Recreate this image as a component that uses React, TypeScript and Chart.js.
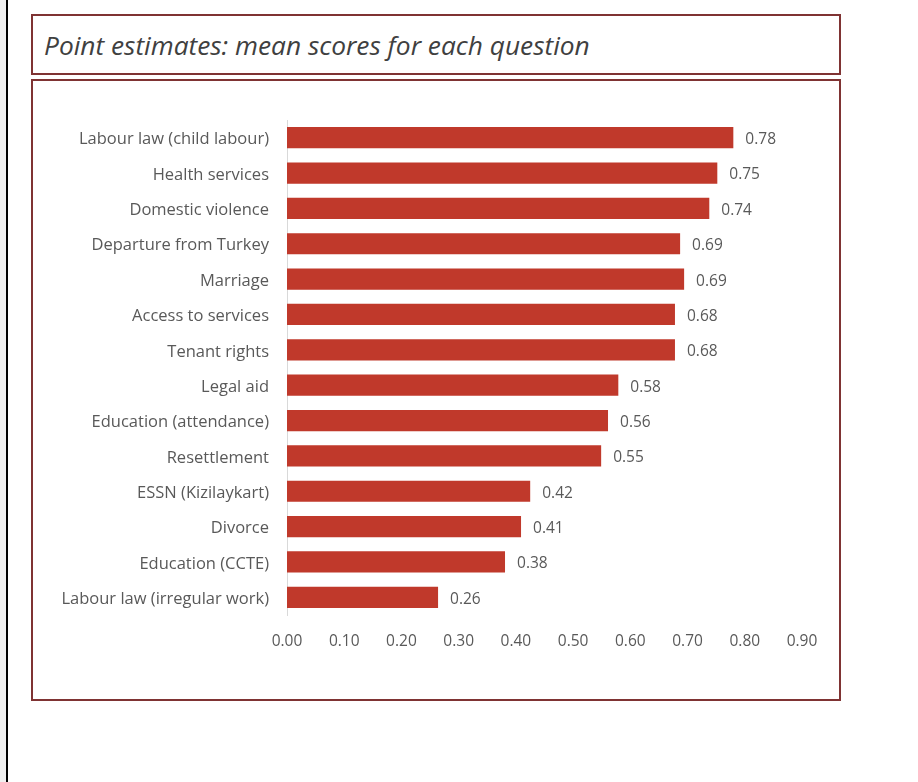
import React, { useEffect, useRef } from "react";
import { Chart, registerables } from "chart.js";

Chart.register(...registerables);

const TITLE = "Point estimates: mean scores for each question";
const categories = [
  "Labour law (child labour)",
  "Health services",
  "Domestic violence",
  "Departure from Turkey",
  "Marriage",
  "Access to services",
  "Tenant rights",
  "Legal aid",
  "Education (attendance)",
  "Resettlement",
  "ESSN (Kizilaykart)",
  "Divorce",
  "Education (CCTE)",
  "Labour law (irregular work)",
];
const meanScores = [0.78, 0.752, 0.738, 0.687, 0.694, 0.678, 0.678, 0.579, 0.561, 0.549, 0.425, 0.409, 0.381, 0.264];
const xTicks = [0, 0.1, 0.2, 0.3, 0.4, 0.5, 0.6, 0.7, 0.8, 0.9];

const FONT = "'Open Sans', 'Noto Sans', sans-serif";
const TEXT = "#595959";
const BAR = "#c0392b";
const FS = 15.5;

const valueLabels = {
  id: "valueLabels",
  afterDatasetsDraw(chart: any) {
    const ctx = chart.ctx;
    const meta = chart.getDatasetMeta(0);
    ctx.save();
    ctx.font = `${FS}px ${FONT}`;
    ctx.fillStyle = TEXT;
    ctx.textAlign = "left";
    ctx.textBaseline = "middle";
    meta.data.forEach((el: any, i: number) => {
      const v = chart.data.datasets[0].data[i] as number;
      ctx.fillText(v.toFixed(2), el.x + 12, el.y + 2);
    });
    ctx.restore();
  },
};

export default function App() {
  const ref = useRef<HTMLCanvasElement>(null);
  useEffect(() => {
    if (!ref.current) return;
    const chart = new Chart(ref.current, {
      type: "bar",
      data: {
        labels: categories,
        datasets: [
          {
            data: meanScores,
            backgroundColor: BAR,
            borderWidth: 0,
            categoryPercentage: 1,
            barPercentage: 0.6,
          },
        ],
      },
      options: {
        indexAxis: "y",
        animation: false,
        responsive: false,
        maintainAspectRatio: false,
        devicePixelRatio: 1,
        layout: { padding: { left: 0, top: 120, right: 116, bottom: 117 } },
        plugins: { legend: { display: false }, tooltip: { enabled: false } },
        scales: {
          x: {
            min: 0,
            max: 0.9,
            afterBuildTicks: (scale: any) => {
              scale.ticks = xTicks.map((v) => ({ value: v }));
            },
            afterFit: (scale: any) => {
              scale.height = 50;
            },
            grid: { display: false, drawTicks: false },
            border: { display: false },
            ticks: {
              padding: 17,
              color: TEXT,
              font: { family: FONT, size: FS },
              callback: (v: any) => Number(v).toFixed(2),
              maxRotation: 0,
              autoSkip: false,
            },
          },
          y: {
            afterFit: (scale: any) => {
              scale.width = 287;
            },
            grid: { display: false, drawTicks: false },
            border: { display: true, color: "#d9d9d9", width: 1 },
            ticks: {
              padding: 18,
              labelOffset: 2,
              color: TEXT,
              font: { family: FONT, size: 16.5 },
              autoSkip: false,
            },
          },
        },
      },
      plugins: [valueLabels],
    });
    return () => chart.destroy();
  }, []);

  const boxBorder = "2px solid #7f3333";
  return (
    <div style={{ position: "fixed", left: 0, top: 0, width: 918, height: 782, background: "#fff", overflow: "hidden" }}>
      <div style={{ position: "absolute", left: 0, top: 0, width: 6, height: 782, background: "#f0f0f0" }} />
      <div style={{ position: "absolute", left: 6, top: 0, width: 2, height: 782, background: "#000" }} />
      <div
        style={{
          position: "absolute",
          left: 31,
          top: 14,
          width: 810,
          height: 61,
          border: boxBorder,
          boxSizing: "border-box",
        }}
      >
        <div
          style={{
            position: "absolute",
            left: 11,
            top: 13,
            fontFamily: FONT,
            fontStyle: "italic",
            fontSize: 26.3,
            color: "#404040",
            lineHeight: "32px",
            whiteSpace: "nowrap",
          }}
        >
          {TITLE}
        </div>
      </div>
      <div
        style={{
          position: "absolute",
          left: 31,
          top: 79,
          width: 810,
          height: 622,
          border: boxBorder,
          boxSizing: "border-box",
        }}
      />
      <canvas ref={ref} width={918} height={782} style={{ position: "absolute", left: 0, top: 0, width: 918, height: 782 }} />
    </div>
  );
}
